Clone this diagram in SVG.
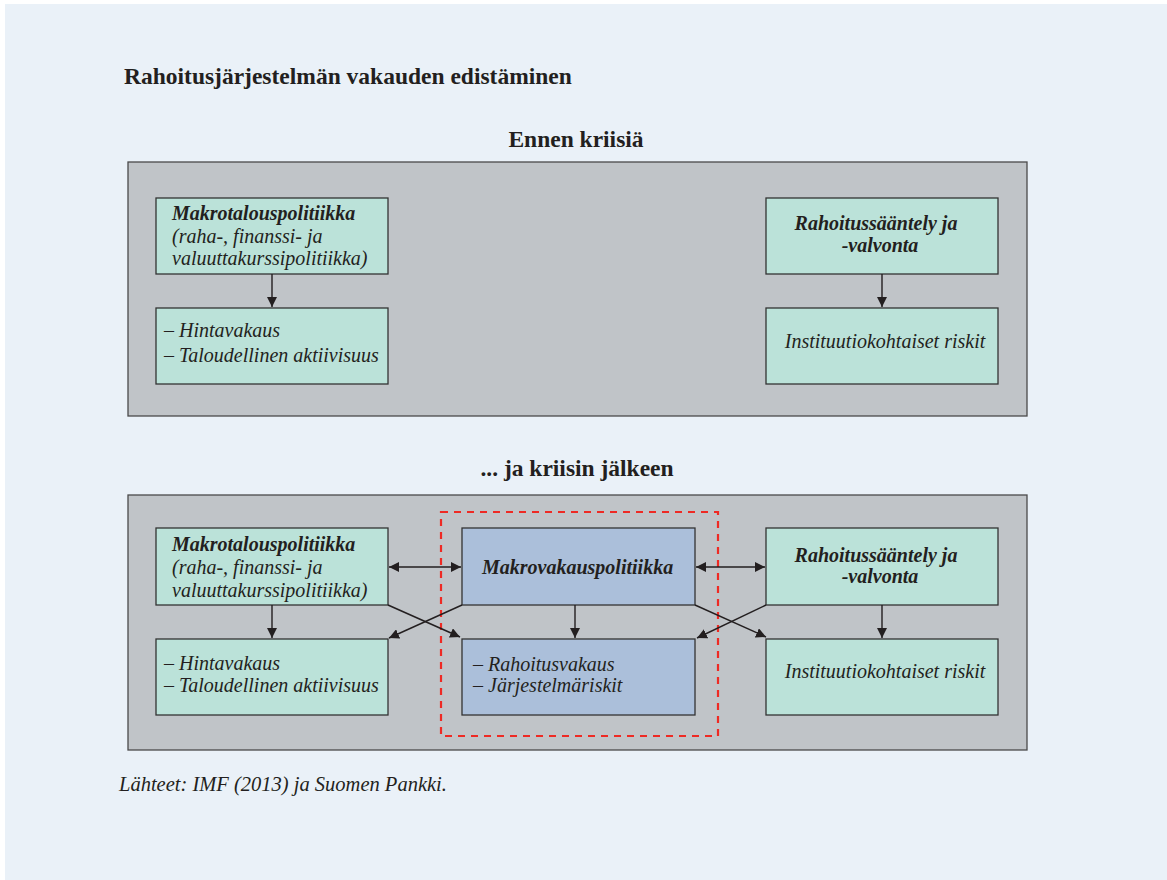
<svg xmlns="http://www.w3.org/2000/svg" width="1167" height="880" viewBox="0 0 1167 880">
<defs>
<marker id="ah" viewBox="0 0 10 10" refX="10" refY="5" markerWidth="10" markerHeight="10" markerUnits="userSpaceOnUse" orient="auto-start-reverse">
<path d="M0,0 L10,5 L0,10 z" fill="#231f20"/>
</marker>
<style>
.panel{fill:#c0c4c8;stroke:#4a4a4a;stroke-width:1.3}
.g{fill:#bbe2d9;stroke:#333;stroke-width:1.3}
.b{fill:#abbfda;stroke:#333;stroke-width:1.3}
.t{font-family:"Liberation Serif","Times New Roman",serif;fill:#231f20}
.h{font-weight:bold;font-size:23.5px}
.i{font-style:italic;font-size:20px}
.bi{font-style:italic;font-weight:bold;font-size:20px}
.c{stroke:#231f20;stroke-width:1.4;fill:none;marker-end:url(#ah)}
.d{stroke:#231f20;stroke-width:1.4;fill:none;marker-end:url(#ah);marker-start:url(#ah)}
</style>
</defs>
<rect x="0" y="0" width="1167" height="880" fill="#ffffff"/>
<rect x="5" y="4" width="1162" height="876" fill="#eaf1f8"/>
<text class="t h" x="124" y="84" font-size="23.8">Rahoitusjärjestelmän vakauden edistäminen</text>
<text class="t h" x="576" y="147" text-anchor="middle">Ennen kriisiä</text>
<text class="t h" x="577" y="476" text-anchor="middle">... ja kriisin jälkeen</text>
<text class="t" x="119" y="791" font-style="italic" font-size="20.5">Lähteet: IMF (2013) ja Suomen Pankki.</text>

<g id="panel-before"><rect class="panel" x="128" y="162" width="899" height="254"/></g>
<g id="panel-after"><rect class="panel" x="128" y="495" width="899" height="255"/></g>

<g id="n1">
<rect class="g" x="156" y="198" width="232" height="76"/>
<text class="t bi" x="172" y="220">Makrotalouspolitiikka</text>
<text class="t i" x="172" y="243">(raha-, finanssi- ja</text>
<text class="t i" x="172" y="265">valuuttakurssipolitiikka)</text>
</g>
<g id="n2">
<rect class="g" x="156" y="308" width="232" height="76"/>
<text class="t i" x="164" y="337">– Hintavakaus</text>
<text class="t i" x="164" y="362">– Taloudellinen aktiivisuus</text>
</g>
<g id="n3">
<rect class="g" x="766" y="198" width="232" height="76"/>
<text class="t bi" x="876" y="230" text-anchor="middle">Rahoitussääntely ja</text>
<text class="t bi" x="880" y="252" text-anchor="middle">-valvonta</text>
</g>
<g id="n4">
<rect class="g" x="766" y="308" width="232" height="76"/>
<text class="t i" x="885" y="348" text-anchor="middle">Instituutiokohtaiset riskit</text>
</g>

<g id="focus"><rect x="441" y="512" width="277" height="224" fill="none" stroke="#ee2a24" stroke-width="2.2" stroke-dasharray="7,6"/></g>

<g id="n5">
<rect class="g" x="156" y="528" width="232" height="77"/>
<text class="t bi" x="172" y="551">Makrotalouspolitiikka</text>
<text class="t i" x="172" y="574">(raha-, finanssi- ja</text>
<text class="t i" x="172" y="597">valuuttakurssipolitiikka)</text>
</g>
<g id="n6">
<rect class="g" x="156" y="639" width="232" height="76"/>
<text class="t i" x="164" y="670">– Hintavakaus</text>
<text class="t i" x="164" y="692">– Taloudellinen aktiivisuus</text>
</g>
<g id="n7">
<rect class="b" x="462" y="528" width="233" height="77"/>
<text class="t bi" x="482" y="574">Makrovakauspolitiikka</text>
</g>
<g id="n8">
<rect class="b" x="462" y="639" width="233" height="76"/>
<text class="t i" x="473" y="671">– Rahoitusvakaus</text>
<text class="t i" x="473" y="692">– Järjestelmäriskit</text>
</g>
<g id="n9">
<rect class="g" x="766" y="528" width="232" height="77"/>
<text class="t bi" x="876" y="562" text-anchor="middle">Rahoitussääntely ja</text>
<text class="t bi" x="880" y="583" text-anchor="middle">-valvonta</text>
</g>
<g id="n10">
<rect class="g" x="766" y="639" width="232" height="76"/>
<text class="t i" x="885" y="678" text-anchor="middle">Instituutiokohtaiset riskit</text>
</g>

<g id="connectors">
<line class="c" x1="272" y1="274" x2="272" y2="307"/>
<line class="c" x1="882" y1="274" x2="882" y2="307"/>
<line class="c" x1="272" y1="605" x2="272" y2="638"/>
<line class="c" x1="575" y1="605" x2="575" y2="638"/>
<line class="c" x1="882" y1="605" x2="882" y2="638"/>
<line class="d" x1="389" y1="567" x2="461" y2="567"/>
<line class="d" x1="696" y1="567" x2="765" y2="567"/>
<line class="c" x1="388" y1="605" x2="460" y2="637"/>
<line class="c" x1="462" y1="605" x2="389" y2="638"/>
<line class="c" x1="695" y1="605" x2="766" y2="637"/>
<line class="c" x1="766" y1="605" x2="697" y2="638"/>
</g>
</svg>
